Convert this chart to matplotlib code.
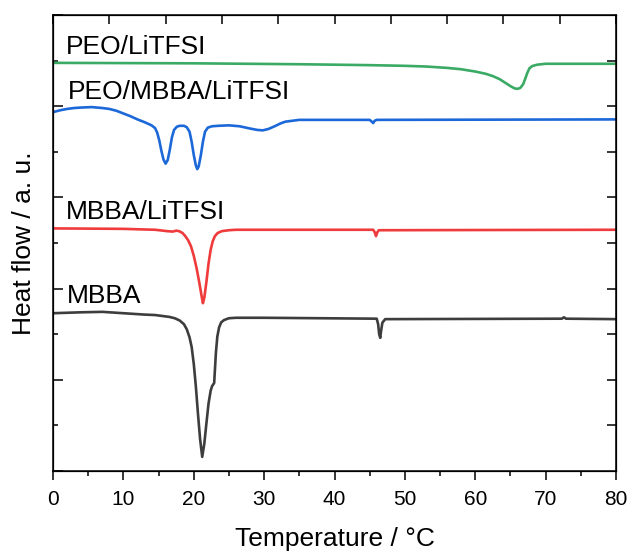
import matplotlib
matplotlib.use("Agg")
import matplotlib.pyplot as plt

plt.rcParams["font.family"] = ["Liberation Sans", "DejaVu Sans"]

# DSC traces (heat flow in arbitrary units, stacked)
peo_t = [0, 20, 35, 45, 50, 53, 56, 58, 60, 61.5, 62.5, 63.5, 64.3, 65, 65.6, 66, 66.4, 66.8, 67.1,
         67.4, 67.7, 68.1, 68.8, 70, 80]
peo_y = [8.95, 8.94, 8.92, 8.90, 8.885, 8.87, 8.84, 8.81, 8.76, 8.71, 8.66, 8.59, 8.51, 8.44, 8.39, 8.38, 8.40,
         8.48, 8.60, 8.73, 8.83, 8.88, 8.91, 8.93, 8.93]

pmb_t = [0, 1, 2, 3, 4, 5.5, 7, 8, 9, 10, 11, 12, 13, 14, 14.5, 14.8, 15.1, 15.4, 15.7, 16.0, 16.3, 16.6,
         16.9, 17.2, 17.6, 18.0, 18.6, 19.0, 19.4, 19.7, 20.0, 20.3, 20.5, 20.7, 21.0, 21.3, 21.6, 22.0,
         22.6, 23.5, 25, 26.5, 28, 29, 29.8, 30.6, 31.5, 32.3, 33, 34, 35, 45, 45.3, 45.5, 45.7, 46, 80]
pmb_y = [7.87, 7.91, 7.94, 7.96, 7.97, 7.98, 7.96, 7.94, 7.90, 7.84, 7.78, 7.71, 7.65, 7.58, 7.52, 7.42, 7.25,
         7.02, 6.83, 6.74, 6.82, 7.05, 7.32, 7.48, 7.55, 7.57, 7.57, 7.54, 7.44, 7.22, 6.93, 6.70, 6.62, 6.68,
         6.92, 7.22, 7.44, 7.53, 7.56, 7.57, 7.58, 7.56, 7.51, 7.48, 7.47, 7.50, 7.56, 7.62, 7.66, 7.68, 7.70,
         7.70, 7.66, 7.63, 7.68, 7.70, 7.71]

mbl_t = [0, 10, 14.5, 16.2, 17.0, 17.5, 17.9, 18.4, 18.8, 19.2, 19.6, 20.0, 20.4, 20.8, 21.1, 21.3, 21.5,
         21.8, 22.1, 22.4, 22.7, 23.0, 23.4, 24.0, 25, 26, 45.5, 45.7, 45.9, 46.1, 46.3, 80]
mbl_y = [5.32, 5.31, 5.29, 5.26, 5.25, 5.27, 5.26, 5.22, 5.15, 5.06, 4.93, 4.72, 4.45, 4.12, 3.85, 3.68, 3.80,
         4.15, 4.55, 4.85, 5.04, 5.15, 5.22, 5.26, 5.28, 5.29, 5.29, 5.24, 5.15, 5.24, 5.28, 5.29]

mbba_t = [0, 2, 4, 7, 9, 11, 13, 14.5, 15.5, 16.5, 17.3, 18, 18.6, 19.0, 19.4, 19.7, 20.0, 20.3, 20.6,
          20.9, 21.2, 21.5, 21.8, 22.1, 22.4, 22.6, 22.9, 23.0, 23.15, 23.35, 23.6, 23.9, 24.3, 25, 26, 30,
          46.0, 46.2, 46.35, 46.5, 46.6, 46.8, 47.2, 72.3, 72.6, 72.9, 80]
mbba_y = [3.46, 3.47, 3.48, 3.49, 3.47, 3.45, 3.43, 3.42, 3.40, 3.38, 3.35, 3.30, 3.22, 3.11, 2.93, 2.72, 2.35,
          1.85, 1.25, 0.70, 0.31, 0.60, 1.05, 1.48, 1.76, 1.86, 1.93, 2.20, 2.60, 2.95, 3.15, 3.26, 3.31, 3.35,
          3.36, 3.36, 3.34, 3.22, 3.00, 2.92, 3.05, 3.25, 3.33, 3.34, 3.37, 3.34, 3.33]

labels = ["PEO/LiTFSI", "PEO/MBBA/LiTFSI", "MBBA/LiTFSI", "MBBA"]
label_x = [1.85, 2.1, 1.85, 2.0]
label_y = [9.14, 8.16, 5.53, 3.68]

fig = plt.figure(figsize=(6.29, 5.51), dpi=100)
ax = fig.add_axes([0.0843, 0.1452, 0.895, 0.8276])

lw = 1.9
ax.plot(peo_t, peo_y, color="#3aaa64", lw=lw)
ax.plot(pmb_t, pmb_y, color="#1c68d8", lw=lw)
ax.plot(mbl_t, mbl_y, color="#ef3b3b", lw=lw)
ax.plot(mbba_t, mbba_y, color="#3d3d3d", lw=lw)

for txt, x, y in zip(labels, label_x, label_y):
    ax.text(x, y, txt, fontsize=19, ha="left", va="baseline")

ax.set_xlim(0, 80)
ax.set_ylim(0, 10)
ax.set_xticks(range(0, 81, 10))
ax.set_xticks(range(5, 80, 10), minor=True)
ax.set_yticks(range(0, 11, 2))
ax.set_yticks(range(1, 10, 2), minor=True)
ax.set_yticklabels([])
ax.tick_params(axis="x", which="major", direction="out", length=6.5, width=1.1, labelsize=15, pad=7)
ax.tick_params(axis="x", which="minor", direction="out", length=3.6, width=1.1)
ax.tick_params(axis="y", which="major", direction="in", length=7, width=1.1)
ax.tick_params(axis="y", which="minor", direction="in", length=3.6, width=1.1)
ax.set_xlabel("Temperature / °C", fontsize=19, labelpad=13)
ax.set_ylabel("Heat flow / a. u.", fontsize=19, labelpad=9)
for s in ax.spines.values():
    s.set_linewidth(1.1)

# top and right axes carry their own inward ticks
top = ax.twiny()
top.set_xlim(0, 80)
top.set_xticks(range(0, 81, 8))
top.tick_params(direction="in", length=6.5, width=1.1, labeltop=False)
right = ax.twinx()
right.set_ylim(0, 10)
right.set_yticks(range(1, 10))
right.tick_params(direction="in", length=6.5, width=1.1, labelright=False)

fig.savefig("out.png", dpi=100)
